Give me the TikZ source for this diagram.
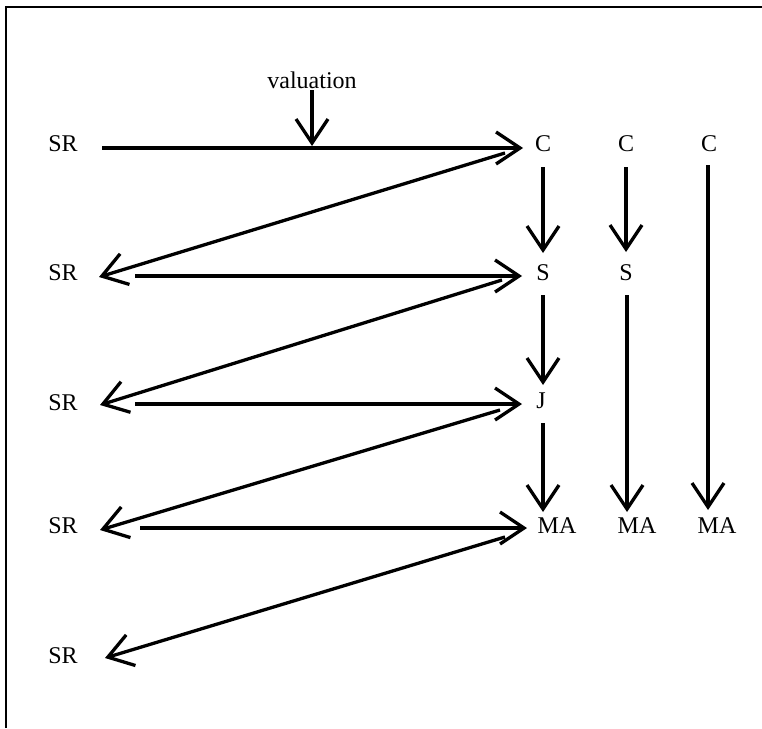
\documentclass[tikz,border=0pt]{standalone}
\usepackage{fontspec}
\setmainfont{Liberation Serif}
\usetikzlibrary{arrows.meta}
\begin{document}
\begin{tikzpicture}[x=1pt,y=-1pt,
  lbl/.style={inner sep=0pt,font=\fontsize{24}{28}\selectfont,text height=16pt,text depth=0pt},
  conn/.style={line width=3.3pt,-{Straight Barb[length=24pt,width=32pt,line width=3.3pt]}},
  frameline/.style={line width=2.2pt}]
\useasboundingbox (0,0) rectangle (762,728);
\draw[frameline] (6,728) -- (6,7) -- (762,7);
% labels
\node[lbl] (val) at (312,80) {valuation};
\coordinate (vtip) at (312,146);
\node[lbl] (SR1) at (63,143) {SR};
\node[lbl] (SR2) at (63,272) {SR};
\node[lbl] (SR3) at (63,402) {SR};
\node[lbl] (SR4) at (63,525) {SR};
\node[lbl] (SR5) at (63,655) {SR};
\node[lbl] (C1) at (543,143) {C};
\node[lbl] (C2) at (626,143) {C};
\node[lbl] (C3) at (709,143) {C};
\node[lbl] (S1) at (543,272) {S};
\node[lbl] (S2) at (626,272) {S};
\node[lbl] (J) at (541,400) {J};
\node[lbl] (MA1) at (557,525) {MA};
\node[lbl] (MA2) at (637,525) {MA};
\node[lbl] (MA3) at (717,525) {MA};
% valuation arrow
\draw[conn] ([shift={(0,10)}]val.center) -- (vtip);
% zig-zag
\draw[conn] ([shift={(39,5)}]SR1.center) -- ([shift={(-20,5)}]C1.center);
\draw[conn] ([shift={(-38,10)}]C1.center) -- ([shift={(36,5)}]SR2.center);
\draw[conn] ([shift={(72,4)}]SR2.center) -- ([shift={(-21,4)}]S1.center);
\draw[conn] ([shift={(-41,8)}]S1.center) -- ([shift={(37,3)}]SR3.center);
\draw[conn] ([shift={(72,2)}]SR3.center) -- ([shift={(-19,4)}]J.center);
\draw[conn] ([shift={(-41,10)}]J.center) -- ([shift={(37,5)}]SR4.center);
\draw[conn] ([shift={(77,3)}]SR4.center) -- ([shift={(-30,3)}]MA1.center);
\draw[conn] ([shift={(-52,12)}]MA1.center) -- ([shift={(42,3)}]SR5.center);
% verticals
\draw[conn] ([shift={(0,24)}]C1.center) -- ([shift={(0,-19)}]S1.center);
\draw[conn] ([shift={(0,24)}]C2.center) -- ([shift={(0,-20)}]S2.center);
\draw[conn] ([shift={(-1,22)}]C3.center) -- ([shift={(-9,-15)}]MA3.center);
\draw[conn] ([shift={(0,23)}]S1.center) -- ([shift={(2,-15)}]J.center);
\draw[conn] ([shift={(1,23)}]S2.center) -- ([shift={(-10,-13)}]MA2.center);
\draw[conn] ([shift={(2,23)}]J.center) -- ([shift={(-14,-13)}]MA1.center);
\end{tikzpicture}
\end{document}
